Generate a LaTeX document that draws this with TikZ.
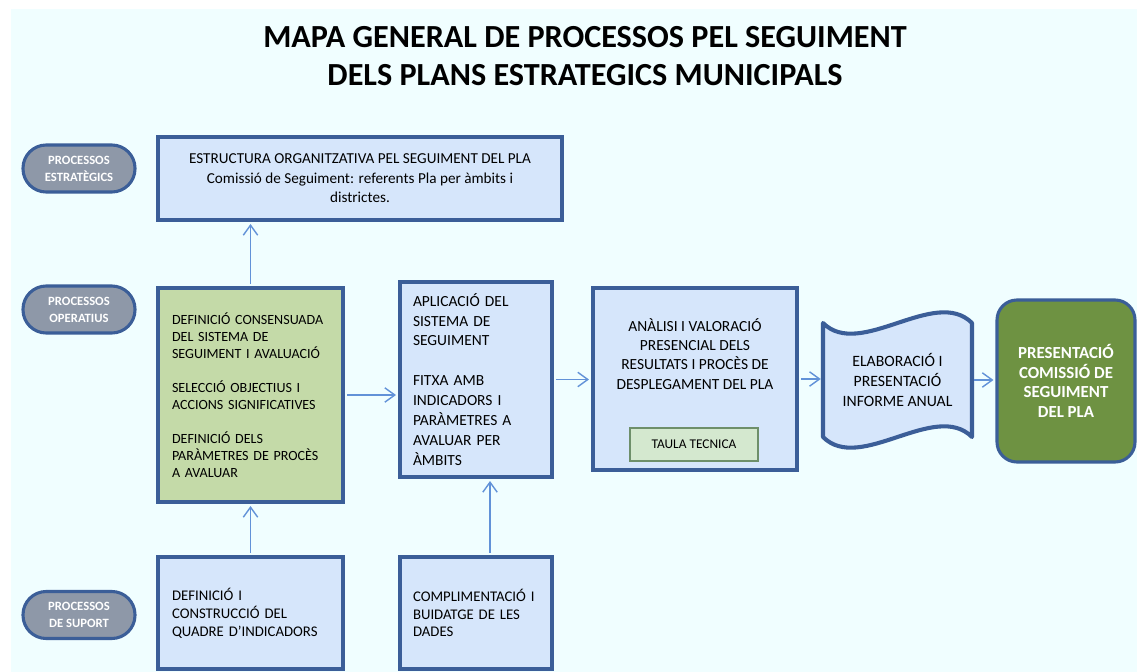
\documentclass[tikz,border=0pt]{standalone}
\usepackage{fontspec}
\setmainfont{Carlito}
\usetikzlibrary{arrows.meta}
\definecolor{bgcyan}{RGB}{240,254,255}
\definecolor{boxblue}{RGB}{214,230,251}
\definecolor{edgeblue}{RGB}{59,94,152}
\definecolor{leafgreen}{RGB}{196,218,168}
\definecolor{pillgray}{RGB}{142,152,168}
\definecolor{olivegreen}{RGB}{110,146,66}
\definecolor{tablegreen}{RGB}{212,232,207}
\definecolor{tableedge}{RGB}{110,143,106}
\definecolor{arrowblue}{RGB}{98,146,216}

\begin{document}
\begin{tikzpicture}[every node/.style={font=\fontsize{10}{12.1}\selectfont},
		pill/.style={draw=edgeblue,line width=2.2pt,fill=pillgray,rounded corners=0.58cm,minimum width=2.8cm,minimum height=1.175cm,align=center,text=white,font=\fontsize{9}{12}\selectfont\bfseries},
		procbox/.style={draw=edgeblue,line width=2.9pt,fill=boxblue,inner sep=0pt},
		arr/.style={draw=arrowblue,line width=1pt,shorten >=1.4pt,shorten <=1.4pt,-{Straight Barb[length=2.5mm,width=3.6mm]}}]
		\useasboundingbox (0,0) rectangle (28.425,-16.8);
		\fill[bgcyan] (0.275,-0.225) rectangle (28.425,-16.8);
		\node[font=\fontsize{22.9}{26.5}\selectfont\bfseries,align=center] (title) at (14.625,-1.4) {MAPA GENERAL DE PROCESSOS PEL SEGUIMENT\\DELS PLANS ESTRATEGICS MUNICIPALS};

		\node[pill] (estrat) at (1.975,-4.2125) {PROCESSOS\\ESTRATÈGICS};
		\node[pill] (operat) at (1.975,-7.7375) {PROCESSOS\\OPERATIUS};
		\node[pill] (suport) at (1.975,-15.375) {PROCESSOS\\DE SUPORT};

		\node[procbox,minimum width=10.1cm,minimum height=2.075cm,align=center,font=\fontsize{10.8}{13.8}\selectfont] (estruct) at (9,-4.4625) {ESTRUCTURA ORGANITZATIVA PEL SEGUIMENT DEL PLA\\Comissió de Seguiment: referents Pla per àmbits i\\districtes.};

		\node[procbox,fill=leafgreen,minimum width=4.625cm,minimum height=5.35cm,text width=3.925cm,align=left] (defin) at (6.2625,-9.875) {DEFINICIÓ CONSENSUADA\\DEL SISTEMA DE\\SEGUIMENT I AVALUACIÓ\\[12.1pt]SELECCIÓ OBJECTIUS I\\ACCIONS SIGNIFICATIVES\\[12.1pt]DEFINICIÓ DELS\\PARÀMETRES DE PROCÈS\\A AVALUAR};
		\node[procbox,minimum width=3.8cm,minimum height=4.875cm,text width=3.15cm,align=left,font=\fontsize{11}{14.2}\selectfont] (applic) at (11.9,-9.4875) {APLICACIÓ DEL\\SISTEMA DE\\SEGUIMENT\\[14.2pt]FITXA AMB\\INDICADORS I\\PARÀMETRES A\\AVALUAR PER\\ÀMBITS};

		\node[procbox,minimum width=5.1cm,minimum height=4.55cm] (anal) at (17.375,-9.475) {};
		\node[align=center,font=\fontsize{11}{13.6}\selectfont] (analtext) at (17.375,-8.85) {ANÀLISI I VALORACIÓ\\PRESENCIAL DELS\\RESULTATS I PROCÈS DE\\DESPLEGAMENT DEL PLA};
		\node[draw=tableedge,line width=0.8pt,fill=tablegreen,minimum width=3.2cm,minimum height=0.825cm,font=\fontsize{9.5}{11}\selectfont] (taula) at (17.35,-11.1125) {TAULA TECNICA};

		\draw[draw=edgeblue,line width=2.9pt,fill=boxblue,line join=round] (20.575,-8.075) .. controls (21.5,-9.0) and (23.375,-7.15) .. (24.3,-8.075) -- (24.3,-10.925) .. controls (23.375,-10.0) and (21.5,-11.85) .. (20.575,-10.925) -- cycle;
		\node[minimum width=3.725cm,minimum height=2.85cm,align=center,font=\fontsize{11.2}{14.2}\selectfont] (doc) at (22.4375,-9.5) {ELABORACIÓ I\\PRESENTACIÓ\\INFORME ANUAL};

		\node[draw=edgeblue,line width=2.2pt,fill=olivegreen,rounded corners=0.5cm,minimum width=3.45cm,minimum height=4.05cm,align=center,text=white,font=\fontsize{12}{13.8}\selectfont\bfseries] (present) at (26.65,-9.525) {PRESENTACIÓ\\COMISSIÓ DE\\SEGUIMENT\\DEL PLA};

		\node[procbox,minimum width=4.625cm,minimum height=2.8cm,text width=3.925cm,align=left,font=\fontsize{10.5}{12.7}\selectfont] (defi) at (6.2625,-15.325) {DEFINICIÓ I\\CONSTRUCCIÓ DEL\\QUADRE D’INDICADORS};
		\node[procbox,minimum width=3.8cm,minimum height=2.8cm,text width=3.15cm,align=left,font=\fontsize{10.5}{12.7}\selectfont] (compl) at (11.9,-15.325) {COMPLIMENTACIÓ I\\BUIDATGE DE LES\\DADES};

		\draw[arr] (defin.north) -- (defin.north |- estruct.south);
		\draw[arr] (defi.north) -- (defin.south);
		\draw[arr] ([xshift=0.35cm]compl.north) -- ([xshift=0.35cm]applic.south);
		\draw[arr] (defin.east) -- (defin.east -| applic.west);
		\draw[arr] (applic.east) -- (applic.east -| anal.west);
		\draw[arr] (anal.east) -- (anal.east -| doc.west);
		\draw[arr] (doc.east) -- (doc.east -| present.west);
	\end{tikzpicture}
\end{document}
